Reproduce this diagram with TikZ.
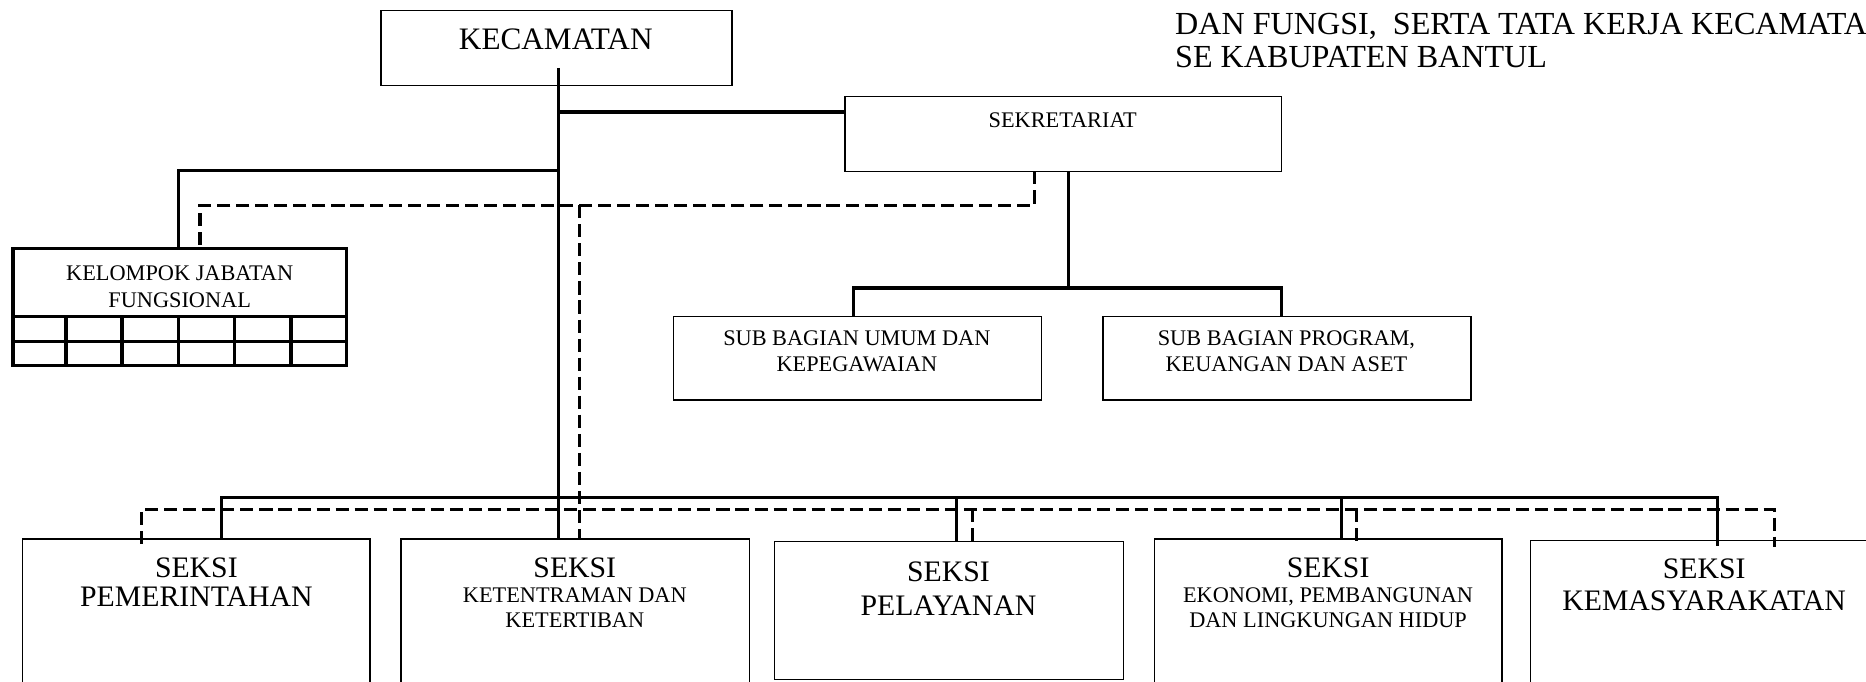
\documentclass[tikz,border=0pt]{standalone}
\usepackage{fontspec}
\setmainfont{Liberation Serif}
\usetikzlibrary{fit}
\begin{document}
\begin{tikzpicture}[x=0.4pt,y=-0.4pt,
  box/.style={draw,line width=0.5pt,inner sep=0pt,outer sep=0pt},
  thickbox/.style={draw,line width=1.1pt,inner sep=0pt,outer sep=0pt},
  conn/.style={line width=1.1pt},
  dconn/.style={line width=1.1pt,dash pattern=on 4.4pt off 2pt},
  big/.style={font=\fontsize{10}{12}\selectfont,anchor=base,inner sep=0pt},
  small/.style={font=\fontsize{7.5}{9}\selectfont,anchor=base,inner sep=0pt},
  ttl/.style={font=\fontsize{10.8}{12}\selectfont,anchor=base west,inner sep=0pt}
]
\useasboundingbox (0,0) rectangle (1568,573);
\fill[white] (0,0) rectangle (1568,573);

% boxes
\node[box,fit={(320,9)(615,72)}] (kec) {};
\node[box,fit={(710,81)(1077,144)}] (sek) {};
\node[box,fit={(566,266)(875,336)}] (sub1) {};
\node[box,fit={(927,266)(1236,336)}] (sub2) {};
\node[thickbox,fit={(11,209)(291,307)}] (kjf) {};
\node[box,fit={(19,453)(311,600)}] (s1) {};
\node[box,fit={(337,453)(630,600)}] (s2) {};
\node[box,fit={(651,455)(944,571)}] (s3) {};
\node[box,fit={(970,453)(1262,600)}] (s4) {};
\node[box,fit={(1286,454)(1600,600)}] (s5) {};

% grid of the functional group box
\draw[line width=1.1pt] (11,266) -- (291,266) (11,287) -- (291,287);
\foreach \gx in {55.5,102.5,150,197,244.5} \draw[line width=1.1pt] (\gx,266) -- (\gx,307);

% texts
\node[big,font=\fontsize{10.5}{12}\selectfont] (kect) at (467,42) {KECAMATAN};
\node[small] (sekt) at (893,107) {SEKRETARIAT};
\node[small] (sub1a) at (720,290) {SUB BAGIAN UMUM DAN};
\node[small] (sub1b) at (720,312) {KEPEGAWAIAN};
\node[small] (sub2a) at (1081,290) {SUB BAGIAN PROGRAM,};
\node[small] (sub2b) at (1081,312) {KEUANGAN DAN ASET};
\node[small] (kjfa) at (151,236) {KELOMPOK JABATAN};
\node[small] (kjfb) at (151,258) {FUNGSIONAL};
\node[big] (s1a) at (165,485) {SEKSI};
\node[big] (s1b) at (165,510) {PEMERINTAHAN};
\node[big] (s2a) at (483,485) {SEKSI};
\node[small] (s2b) at (483,506) {KETENTRAMAN DAN};
\node[small] (s2c) at (483,527) {KETERTIBAN};
\node[big] (s3a) at (797,489) {SEKSI};
\node[big] (s3b) at (797,517) {PELAYANAN};
\node[big] (s4a) at (1116,485) {SEKSI};
\node[small] (s4b) at (1116,506) {EKONOMI, PEMBANGUNAN};
\node[small] (s4c) at (1116,527) {DAN LINGKUNGAN HIDUP};
\node[big] (s5a) at (1432,486) {SEKSI};
\node[big] (s5b) at (1432,513) {KEMASYARAKATAN};
\node[ttl] (t1) at (987,29) {DAN FUNGSI,\ \ SERTA TATA KERJA KECAMATAN};
\node[ttl] (t2) at (987,57) {SE KABUPATEN BANTUL};

% solid connectors
\coordinate (t0) at (469,57);
\draw[conn] (t0) -- (t0 |- s2.north);
\coordinate (ja) at (469,94);
\draw[conn] (ja) -- (ja -| sek.west);
\coordinate (jb) at (469,143.5);
\coordinate (kjfs) at (150,209);
\draw[conn] (jb) -| (kjfs);
\coordinate (sd) at (898,144);
\coordinate (sb) at (898,242);
\draw[conn] (sd) -- (sb);
\coordinate (u1) at (717,266);
\coordinate (u2) at (1077,266);
\draw[conn] (u1) |- (sb) -| (u2);
\coordinate (bar) at (0,418);
\coordinate (c1) at (186,453);
\coordinate (c3) at (804,455);
\coordinate (c4) at (1127,453);
\coordinate (c5) at (1443,459);
\draw[conn] (c1) -- (c1 |- bar) -- (c5 |- bar) -- (c5);
\draw[conn] (c3 |- bar) -- (c3);
\draw[conn] (c4 |- bar) -- (c4);

% dashed connectors
\coordinate (d0) at (869,144);
\coordinate (d1) at (869,172.5);
\coordinate (kjfd) at (168,209);
\draw[dconn] (d0) -- (d1) -| (kjfd);
\coordinate (d2) at (487,172.5);
\draw[dconn] (d2) -- (d2 |- s2.north);
\coordinate (dbar) at (0,428);
\coordinate (e1) at (119,457);
\coordinate (e3) at (817,460);
\coordinate (e4) at (1140,459);
\coordinate (e5) at (1491,460);
\draw[dconn] (e1) -- (e1 |- dbar) -- (e5 |- dbar) -- (e5);
\draw[dconn] (e3 |- dbar) -- (e3);
\draw[dconn] (e4 |- dbar) -- (e4);
\end{tikzpicture}
\end{document}
